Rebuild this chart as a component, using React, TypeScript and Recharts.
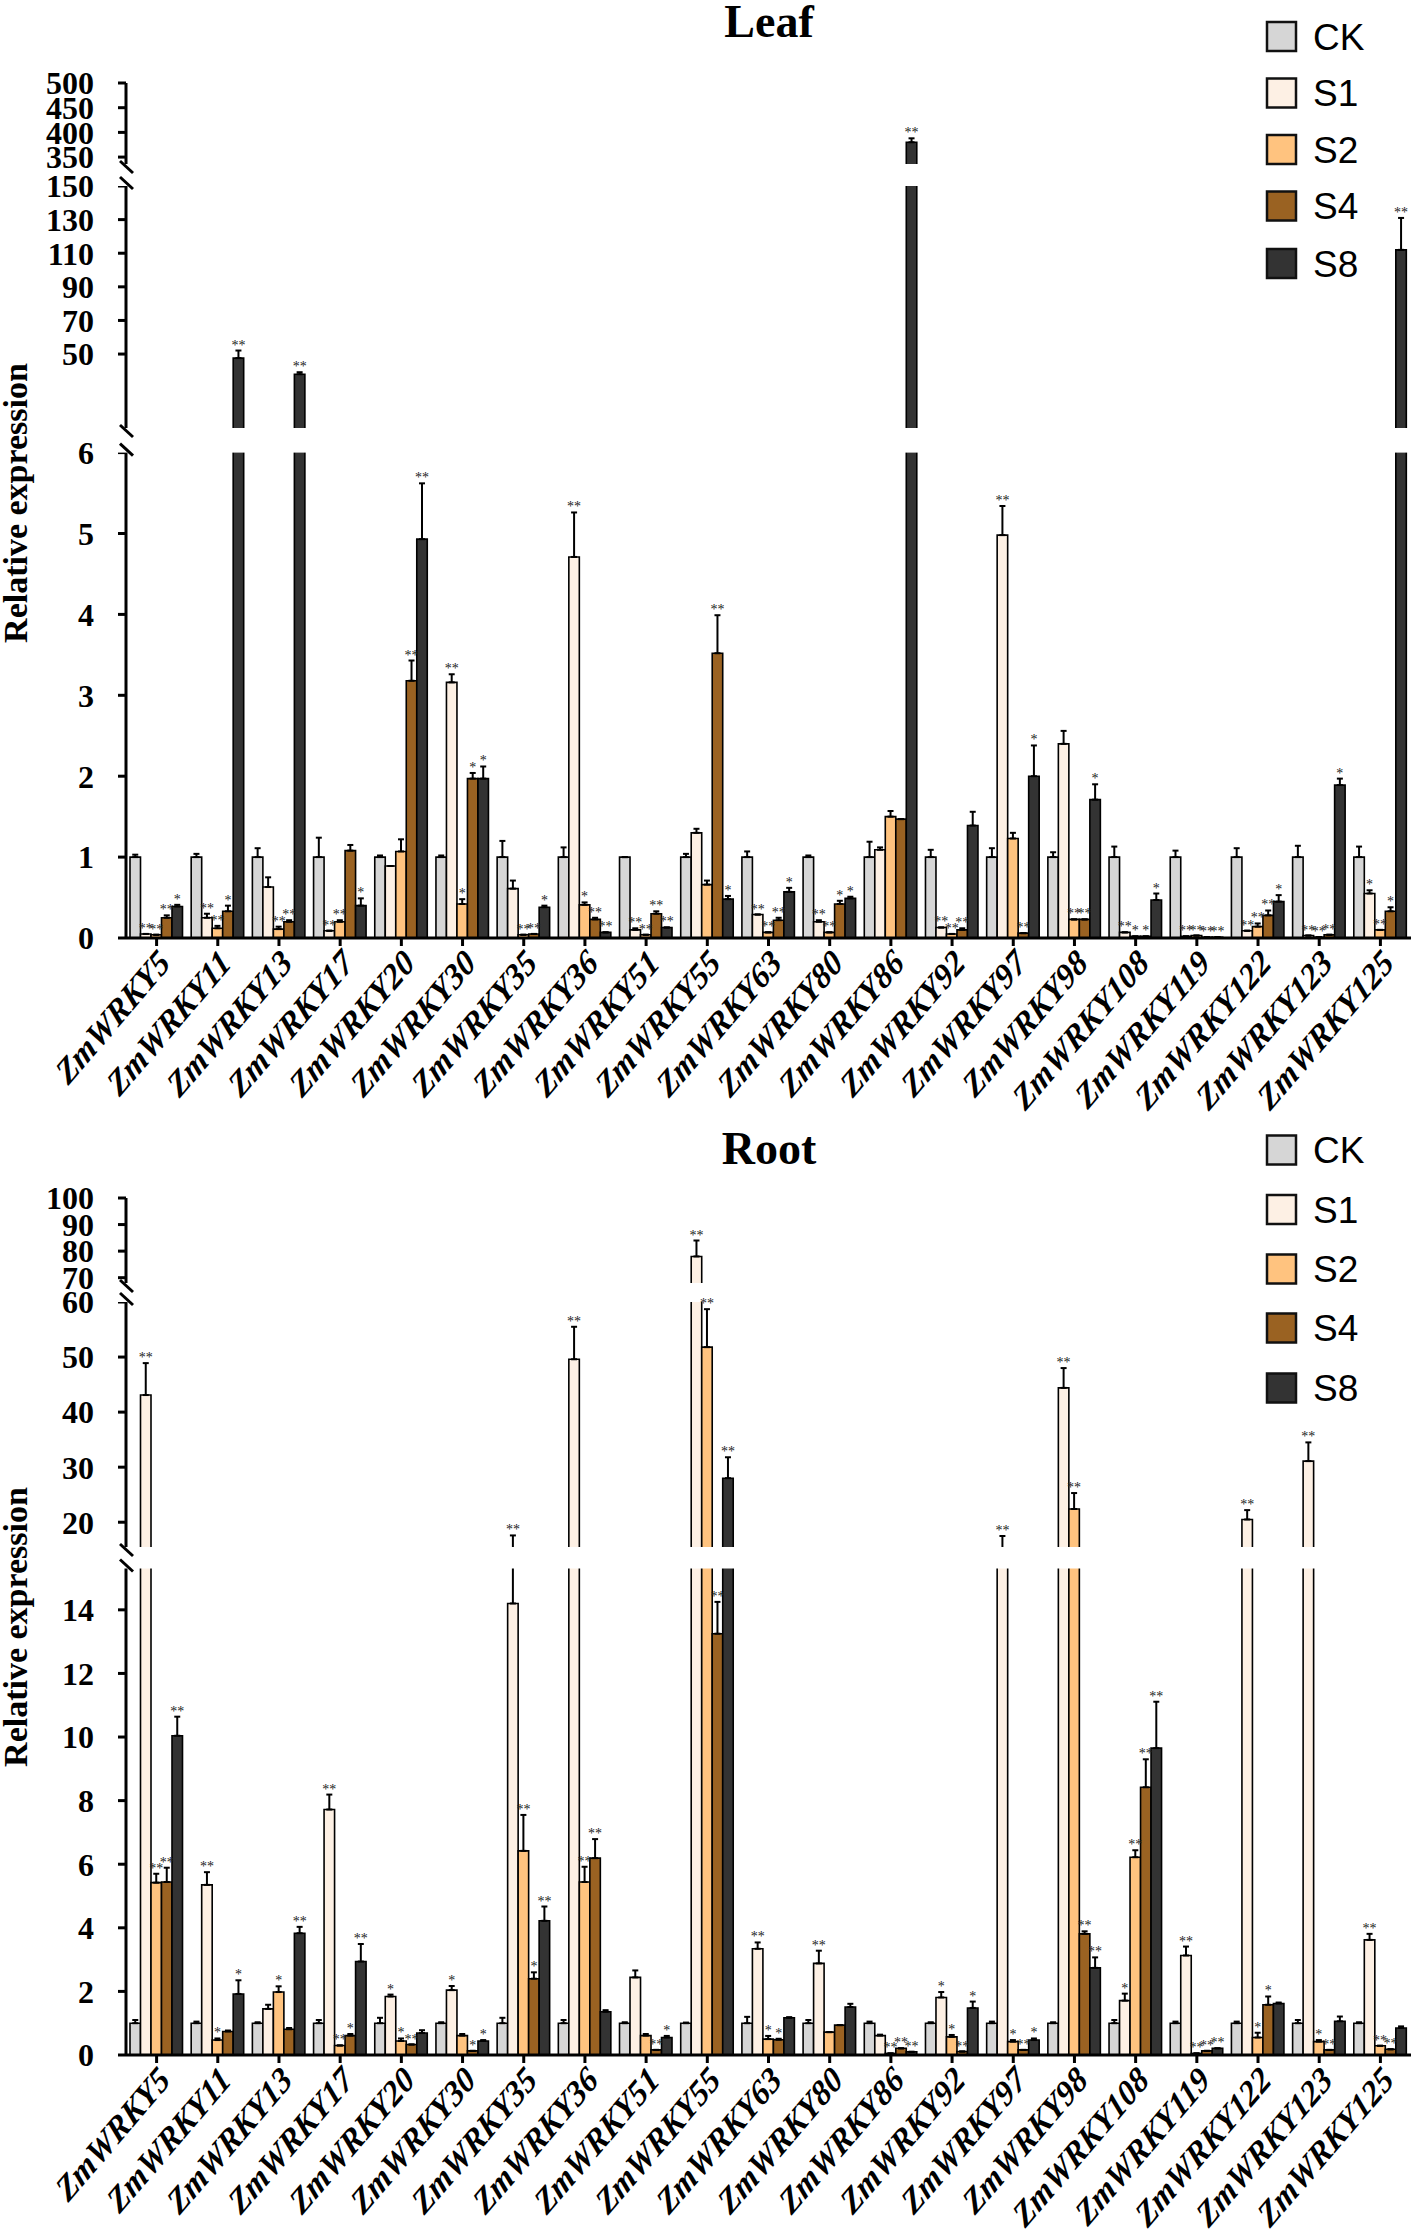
import React from 'react';
import { BarChart, Bar, XAxis, YAxis, ErrorBar, LabelList, ReferenceArea } from 'recharts';

const SERIF = "'Liberation Serif', 'Times New Roman', Times, serif";
const SANS = "'Liberation Sans', Arial, Helvetica, sans-serif";

const genes = ['ZmWRKY5', 'ZmWRKY11', 'ZmWRKY13', 'ZmWRKY17', 'ZmWRKY20', 'ZmWRKY30', 'ZmWRKY35', 'ZmWRKY36', 'ZmWRKY51', 'ZmWRKY55', 'ZmWRKY63', 'ZmWRKY80', 'ZmWRKY86', 'ZmWRKY92', 'ZmWRKY97', 'ZmWRKY98', 'ZmWRKY108', 'ZmWRKY119', 'ZmWRKY122', 'ZmWRKY123', 'ZmWRKY125'];
const seriesNames = ['CK', 'S1', 'S2', 'S4', 'S8'];
const seriesColors = ['#d6d6d6', '#fdf0e4', '#ffc37f', '#9a6222', '#333333'];

// ---------- Leaf ----------
const leafCK = [1, 1, 1, 1, 1, 1, 1, 1, 1, 1, 1, 1, 1, 1, 1, 1, 1, 1, 1, 1, 1];
const leafCKErr = [0.03, 0.04, 0.11, 0.24, 0.02, 0.02, 0.2, 0.12, 0, 0.04, 0.07, 0.02, 0.19, 0.09, 0.11, 0.06, 0.13, 0.08, 0.11, 0.14, 0.13];
const leafCKSig = ['', '', '', '', '', '', '', '', '', '', '', '', '', '', '', '', '', '', '', '', ''];
const leafS1 = [0.05, 0.25, 0.63, 0.09, 0.89, 3.16, 0.61, 4.71, 0.1, 1.3, 0.29, 0.2, 1.09, 0.13, 4.98, 2.4, 0.07, 0.02, 0.09, 0.03, 0.55];
const leafS1Err = [0, 0.05, 0.12, 0, 0, 0.1, 0.1, 0.55, 0.02, 0.05, 0, 0.02, 0.03, 0, 0.36, 0.16, 0, 0, 0, 0, 0.04];
const leafS1Sig = ['**', '**', '', '**', '', '**', '', '**', '**', '', '**', '**', '', '**', '**', '', '**', '**', '**', '**', '*'];
const leafS2 = [0.04, 0.12, 0.11, 0.2, 1.07, 0.42, 0.04, 0.41, 0.04, 0.66, 0.07, 0.07, 1.5, 0.05, 1.23, 0.23, 0.02, 0.03, 0.14, 0.01, 0.1];
const leafS2Err = [0, 0.03, 0.03, 0.02, 0.15, 0.06, 0, 0.03, 0, 0.05, 0, 0, 0.07, 0, 0.07, 0, 0, 0, 0.04, 0, 0];
const leafS2Sig = ['**', '**', '**', '**', '', '*', '**', '*', '**', '', '**', '**', '', '**', '', '**', '*', '**', '**', '**', '**'];
const leafS4 = [0.25, 0.33, 0.2, 1.08, 3.18, 1.97, 0.05, 0.23, 0.3, 3.52, 0.22, 0.42, 1.47, 0.1, 0.06, 0.23, 0.02, 0.01, 0.28, 0.04, 0.33];
const leafS4Err = [0.03, 0.07, 0.02, 0.07, 0.25, 0.07, 0, 0.02, 0.03, 0.47, 0.03, 0.04, 0, 0.02, 0, 0, 0, 0, 0.06, 0, 0.05];
const leafS4Sig = ['**', '*', '**', '', '**', '*', '**', '**', '**', '**', '**', '*', '', '**', '**', '**', '*', '**', '**', '**', '*'];
const leafS8 = [0.39, 47.6, 38, 0.4, 4.93, 1.97, 0.38, 0.07, 0.13, 0.48, 0.57, 0.49, 380, 1.39, 2.0, 1.71, 0.47, 0.01, 0.45, 1.89, 112];
const leafS8Err = [0.02, 4.5, 1.2, 0.09, 0.69, 0.15, 0.02, 0, 0, 0.04, 0.05, 0.02, 8, 0.17, 0.38, 0.19, 0.08, 0, 0.08, 0.08, 19];
const leafS8Sig = ['*', '**', '**', '*', '**', '*', '*', '**', '**', '*', '*', '*', '**', '', '*', '*', '*', '**', '*', '*', '**'];
const leafTicks = [0, 1, 2, 3, 4, 5, 6, 50, 70, 90, 110, 130, 150, 350, 400, 450, 500];

// ---------- Root ----------
const rootCK = [1, 1, 1, 1, 1, 1, 1, 1, 1, 1, 1, 1, 1, 1, 1, 1, 1, 1, 1, 1, 1];
const rootCKErr = [0.1, 0.05, 0.03, 0.1, 0.17, 0.03, 0.17, 0.1, 0.03, 0.02, 0.2, 0.1, 0.05, 0.03, 0.05, 0.03, 0.1, 0.05, 0.05, 0.1, 0.03];
const rootCKSig = ['', '', '', '', '', '', '', '', '', '', '', '', '', '', '', '', '', '', '', '', ''];
const rootS1 = [43.1, 5.35, 1.45, 7.72, 1.84, 2.04, 14.2, 49.6, 2.44, 78, 3.34, 2.88, 0.61, 1.81, 15.4, 44.4, 1.71, 3.13, 20.5, 31.1, 3.62];
const rootS1Err = [5.8, 0.4, 0.13, 0.47, 0.06, 0.13, 3.4, 5.9, 0.22, 6, 0.2, 0.4, 0.03, 0.17, 2.1, 3.6, 0.22, 0.28, 1.7, 3.4, 0.19];
const rootS1Sig = ['**', '**', '', '**', '*', '*', '**', '**', '', '**', '**', '**', '', '*', '**', '**', '*', '**', '**', '**', '**'];
const rootS2 = [5.42, 0.47, 1.98, 0.3, 0.44, 0.61, 6.42, 5.44, 0.61, 51.8, 0.5, 0.72, 0.05, 0.57, 0.42, 22.4, 6.22, 0.05, 0.55, 0.42, 0.29];
const rootS2Err = [0.28, 0.05, 0.18, 0, 0.08, 0.05, 1.13, 0.48, 0.05, 6.9, 0.1, 0, 0, 0.06, 0.05, 2.9, 0.22, 0, 0.15, 0.05, 0];
const rootS2Sig = ['**', '*', '*', '**', '*', '', '**', '**', '', '**', '*', '', '**', '*', '*', '**', '**', '**', '*', '*', '**'];
const rootS4 = [5.44, 0.74, 0.81, 0.61, 0.33, 0.13, 2.4, 6.19, 0.16, 13.25, 0.48, 0.94, 0.21, 0.11, 0.16, 3.81, 8.42, 0.13, 1.58, 0.16, 0.18];
const rootS4Err = [0.45, 0.03, 0.04, 0.05, 0, 0, 0.2, 0.6, 0, 1.0, 0.03, 0, 0, 0, 0, 0.08, 0.88, 0, 0.26, 0, 0];
const rootS4Sig = ['**', '', '', '*', '**', '*', '*', '**', '**', '**', '*', '', '**', '**', '**', '**', '**', '**', '*', '**', '**'];
const rootS8 = [10.04, 1.92, 3.83, 2.94, 0.69, 0.44, 4.22, 1.36, 0.55, 28, 1.17, 1.51, 0.1, 1.48, 0.47, 2.74, 9.65, 0.21, 1.62, 1.06, 0.85];
const rootS8Err = [0.6, 0.43, 0.2, 0.55, 0.09, 0.03, 0.45, 0.05, 0.05, 3.8, 0.02, 0.1, 0, 0.2, 0.05, 0.33, 1.46, 0, 0.03, 0.15, 0.05];
const rootS8Sig = ['**', '*', '**', '**', '', '*', '**', '', '*', '**', '', '', '**', '*', '*', '**', '**', '**', '', '', ''];
const rootTicks = [0, 2, 4, 6, 8, 10, 12, 14, 20, 30, 40, 50, 60, 70, 80, 90, 100];

// Broken-axis segments: value range -> axis (display) range
type Seg = { v0: number; v1: number; d0: number; d1: number };
const leafSegs: Seg[] = [
  { v0: 0, v1: 6, d0: 0, d1: 485.4 },
  { v0: 6, v1: 150, d0: 510, d1: 752 },
  { v0: 336, v1: 500, d0: 774, d1: 855 },
];
const rootSegs: Seg[] = [
  { v0: 0, v1: 15.3, d0: 0, d1: 486.5 },
  { v0: 15.5, v1: 60, d0: 508, d1: 753 },
  { v0: 68, v1: 100, d0: 772, d1: 857 },
];

function toDisplay(v: number, segs: Seg[]): number {
  for (let i = 0; i < segs.length; i++) {
    const s = segs[i];
    if (v <= s.v1) {
      if (v >= s.v0 || i === 0) return s.d0 + ((v - s.v0) / (s.v1 - s.v0)) * (s.d1 - s.d0);
      const p = segs[i - 1];
      return p.d1 + ((v - p.v1) / (s.v0 - p.v1)) * (s.d0 - p.d1);
    }
  }
  const l = segs[segs.length - 1];
  return l.d1 + ((v - l.v1) * (l.d1 - l.d0)) / (l.v1 - l.v0);
}

function buildRows(vals: number[][], errs: number[][], sigs: string[][], segs: Seg[]) {
  return genes.map((g, gi) => {
    const row: any = { gene: g };
    seriesNames.forEach((s, si) => {
      const v = vals[si][gi];
      const e = errs[si][gi];
      const d = toDisplay(v, segs);
      const hi = toDisplay(v + e, segs) - d;
      row[`d_${s}`] = d;
      row[`e_${s}`] = [0, hi];
      row[`l_${s}`] = sigs[si][gi] ? `${sigs[si][gi]}@${hi}` : '';
    });
    return row;
  });
}

const leafRows = buildRows(
  [leafCK, leafS1, leafS2, leafS4, leafS8],
  [leafCKErr, leafS1Err, leafS2Err, leafS4Err, leafS8Err],
  [leafCKSig, leafS1Sig, leafS2Sig, leafS4Sig, leafS8Sig],
  leafSegs
);
const rootRows = buildRows(
  [rootCK, rootS1, rootS2, rootS4, rootS8],
  [rootCKErr, rootS1Err, rootS2Err, rootS4Err, rootS8Err],
  [rootCKSig, rootS1Sig, rootS2Sig, rootS4Sig, rootS8Sig],
  rootSegs
);

const renderSig = (props: any) => {
  const value = props.value;
  if (!value || typeof value !== 'string') return null;
  const [sig, hiStr] = value.split('@');
  const hi = parseFloat(hiStr) || 0;
  const vb = props.viewBox && props.viewBox.width !== undefined ? props.viewBox : props;
  const x = Number(vb.x) + Number(vb.width) / 2;
  const top = Math.min(Number(vb.y), Number(vb.y) + Number(vb.height));
  return (
    <text x={x} y={top - hi - 1} textAnchor="middle" fontSize={14} fontFamily={SERIF} fill="#222">
      {sig}
    </text>
  );
};

const GeneTick = (props: any) => {
  const { x, y, payload } = props;
  const ax = x + 15;
  const ay = y + 17;
  return (
    <g transform={`translate(${ax},${ay}) scale(1,1.17) rotate(-45)`}>
      <text x={0} y={0} textAnchor="end" fontFamily={SERIF} fontStyle="italic" fontWeight="bold" fontSize={31} fill="#000">
        {payload.value}
      </text>
    </g>
  );
};

const BreakShape = (p: any) => {
  const { x, y, width, height } = p;
  if (x === undefined || y === undefined) return null;
  return (
    <g>
      <rect x={x - 10} y={y} width={width + 10} height={height} fill="#fff" />
      <line x1={x - 6} y1={y - 3} x2={x + 7} y2={y + 9} stroke="#000" strokeWidth={3} />
      <line x1={x - 6} y1={y + height - 9} x2={x + 7} y2={y + height + 3} stroke="#000" strokeWidth={3} />
    </g>
  );
};

type PanelProps = { rows: any[]; segs: Seg[]; ticks: number[]; top: number; height: number; marginTop: number; marginBottom: number; xHeight: number; domainMax: number };

function Panel({ rows, segs, ticks, top, height, marginTop, marginBottom, xHeight, domainMax }: PanelProps) {
  const tickDisp = ticks.map((t) => toDisplay(t, segs));
  const fmt = (d: number) => {
    let best = 0;
    tickDisp.forEach((td, i) => {
      if (Math.abs(td - d) < Math.abs(tickDisp[best] - d)) best = i;
    });
    return String(ticks[best]);
  };
  const gaps = segs.slice(1).map((s, i) => [segs[i].d1, s.d0]);
  return (
    <div style={{ position: 'absolute', left: 0, top, width: 1418, height }}>
      <BarChart width={1418} height={height} data={rows} margin={{ top: marginTop, right: 7, bottom: marginBottom, left: 0 }} barGap={0} barSize={10.5}>
        <XAxis dataKey="gene" interval={0} height={xHeight} tick={<GeneTick />} tickSize={8} axisLine={{ stroke: '#000', strokeWidth: 3 }} tickLine={{ stroke: '#000', strokeWidth: 3 }} />
        <YAxis
          type="number"
          domain={[0, domainMax]}
          ticks={tickDisp}
          interval={0}
          width={126}
          tickFormatter={fmt}
          tickSize={8}
          tickMargin={24}
          axisLine={{ stroke: '#000', strokeWidth: 3 }}
          tickLine={{ stroke: '#000', strokeWidth: 3 }}
          tick={{ fontSize: 32, fontWeight: 'bold', fill: '#000', fontFamily: SERIF }}
        />
        {seriesNames.map((s, i) => (
          <Bar key={s} dataKey={`d_${s}`} fill={seriesColors[i]} stroke="#000" strokeWidth={1.6} isAnimationActive={false}>
            <ErrorBar dataKey={`e_${s}`} width={3} stroke="#000" strokeWidth={2} direction="y" isAnimationActive={false} />
            <LabelList dataKey={`l_${s}`} content={renderSig} />
          </Bar>
        ))}
        {gaps.map(([a, b], i) => (
          <ReferenceArea key={i} y1={a} y2={b} shape={BreakShape} zIndex={1500} ifOverflow="visible" />
        ))}
      </BarChart>
    </div>
  );
}

function Legend({ centers }: { centers: number[] }) {
  return (
    <g>
      {seriesNames.map((s, i) => (
        <g key={s}>
          <rect x={1267} y={centers[i] - 14.5} width={29} height={29} fill={seriesColors[i]} stroke="#111" strokeWidth={2.5} />
          <text x={1313} y={centers[i] + 13} fontFamily={SANS} fontSize={37} fill="#000">
            {s}
          </text>
        </g>
      ))}
    </g>
  );
}

export default function App() {
  return (
    <div style={{ position: 'absolute', left: 0, top: 0, width: 1418, height: 2232, background: '#fff' }}>
      <Panel rows={leafRows} segs={leafSegs} ticks={leafTicks} top={0} height={1140} marginTop={83} marginBottom={12} xHeight={190} domainMax={855} />
      <Panel rows={rootRows} segs={rootSegs} ticks={rootTicks} top={1110} height={1122} marginTop={88} marginBottom={7} xHeight={170} domainMax={857} />
      <svg width={1418} height={2232} style={{ position: 'absolute', left: 0, top: 0, pointerEvents: 'none' }}>
        <text x={769} y={37} textAnchor="middle" fontFamily={SERIF} fontWeight="bold" fontSize={46} fill="#000">Leaf</text>
        <text x={769} y={1164} textAnchor="middle" fontFamily={SERIF} fontWeight="bold" fontSize={46} fill="#000">Root</text>
        <text x={27} y={503} transform="rotate(-90 27 503)" textAnchor="middle" fontFamily={SERIF} fontWeight="bold" fontSize={34} fill="#000">Relative expression</text>
        <text x={27} y={1627} transform="rotate(-90 27 1627)" textAnchor="middle" fontFamily={SERIF} fontWeight="bold" fontSize={34} fill="#000">Relative expression</text>
        <Legend centers={[36.5, 93, 149.5, 206, 263.5]} />
        <Legend centers={[1150, 1209.5, 1269, 1328, 1388]} />
      </svg>
    </div>
  );
}
